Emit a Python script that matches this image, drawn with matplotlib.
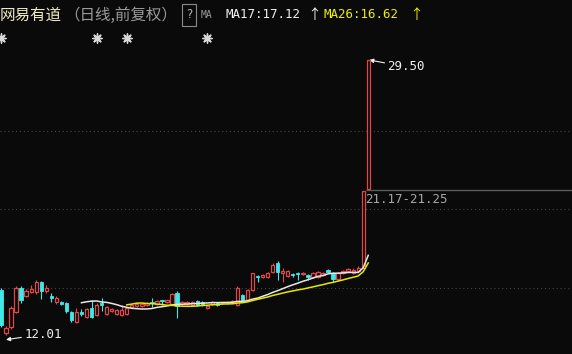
import matplotlib.pyplot as plt
from matplotlib.patches import Rectangle
import pandas as pd

# daily candles (前复权)
opens = [14.85, 12.11, 12.49, 13.45, 14.97, 14.47, 14.72, 14.72, 15.36, 14.79,
         14.47, 14.09, 14.09, 14.02, 13.45, 12.81, 13.45, 13.13, 13.70, 13.26,
         14.02, 13.32, 13.51, 13.32, 13.26, 13.32, 13.77, 13.83, 13.83, 13.89,
         14.09, 13.96, 14.21, 14.09, 13.96, 14.66, 13.96, 13.96, 13.89, 14.15,
         14.09, 13.70, 13.96, 14.02, 14.02, 14.02, 14.02, 13.89, 14.53, 14.21,
         14.85, 15.74, 15.68, 15.68, 16.00, 16.57, 15.93, 15.74, 15.87, 15.93,
         15.87, 15.81, 15.68, 15.68, 15.81, 16.12, 15.93, 15.55, 15.93, 16.06,
         15.93, 16.06, 16.25, 21.25]
closes = [12.62, 12.43, 13.70, 14.97, 14.21, 14.79, 14.91, 15.36, 14.79, 14.97,
          14.34, 14.34, 13.96, 13.51, 12.94, 13.45, 13.32, 13.64, 13.13, 13.89,
          13.89, 13.77, 13.64, 13.58, 13.58, 13.70, 13.89, 13.96, 13.96, 14.02,
          14.02, 14.15, 14.15, 14.21, 14.59, 13.83, 14.09, 14.09, 14.09, 13.89,
          13.89, 13.83, 14.09, 13.89, 14.04, 14.09, 14.15, 14.97, 14.21, 14.85,
          15.93, 15.68, 15.81, 15.93, 16.44, 16.00, 16.06, 16.06, 15.81, 15.87,
          15.93, 15.68, 15.93, 15.98, 15.93, 16.00, 15.55, 15.93, 16.06, 16.19,
          16.12, 16.25, 21.17, 29.50]
highs = [14.97, 12.55, 13.83, 15.10, 15.10, 14.91, 15.17, 15.49, 15.42, 15.17,
         14.66, 14.47, 14.15, 14.09, 13.51, 13.70, 13.64, 13.70, 14.21, 14.02,
         14.34, 13.83, 13.70, 13.64, 13.89, 13.77, 13.96, 14.02, 14.02, 14.09,
         14.34, 14.21, 14.21, 14.21, 14.66, 14.79, 14.15, 14.15, 14.15, 14.21,
         14.15, 13.89, 14.15, 14.09, 14.09, 14.09, 14.21, 15.10, 14.59, 14.91,
         15.93, 15.81, 15.87, 15.98, 16.57, 16.70, 16.25, 16.12, 15.93, 16.00,
         15.98, 15.87, 15.98, 16.06, 16.00, 16.19, 15.98, 15.98, 16.12, 16.25,
         16.25, 16.38, 21.17, 29.50]
lows = [12.49, 12.01, 12.36, 13.38, 14.02, 14.40, 14.66, 14.59, 14.28, 14.66,
        14.09, 13.96, 13.89, 13.38, 12.81, 12.75, 13.19, 13.07, 13.07, 13.19,
        13.51, 13.26, 13.45, 13.26, 13.19, 13.26, 13.70, 13.77, 13.77, 13.83,
        13.77, 13.89, 13.89, 14.02, 13.89, 13.07, 13.89, 13.89, 13.83, 13.83,
        13.83, 13.64, 13.89, 13.83, 13.96, 13.96, 14.02, 13.83, 14.15, 14.15,
        14.79, 15.36, 15.62, 15.62, 15.93, 15.49, 15.36, 15.68, 15.68, 15.49,
        15.81, 15.49, 15.62, 15.62, 15.74, 15.93, 15.36, 15.42, 15.87, 16.00,
        15.87, 16.00, 16.25, 21.25]
star_days = [0, 19, 25, 41]

red = '#e04848'
cyan = '#40e8e8'
bg = '#0a0a0a'

fig = plt.figure(figsize=(5.72, 3.54), dpi=100, facecolor=bg)
ax = fig.add_axes([0, 0, 1, 1], facecolor=bg)
ax.set_xlim(-0.2, 113.5)
ax.set_ylim(10.77, 33.32)
ax.axis('off')

# grid
for g in [15, 20, 25]:
    ax.axhline(g, color='#454545', lw=0.8, ls=(0, (1, 2.5)), zorder=0)

w = 0.66
for i in range(len(opens)):
    o, c, h, l = opens[i], closes[i], highs[i], lows[i]
    top, bot = max(o, c), min(o, c)
    body = max(top - bot, 0.04)
    if c >= o:
        ax.vlines(i, top, h, color=red, lw=0.8, zorder=3)
        ax.vlines(i, l, bot, color=red, lw=0.8, zorder=3)
        ax.add_patch(Rectangle((i - w / 2, bot), w, body, facecolor=bg,
                               edgecolor=red, lw=0.9, zorder=4))
    else:
        ax.vlines(i, l, h, color=cyan, lw=0.8, zorder=3)
        ax.add_patch(Rectangle((i - w / 2, bot), w, body, facecolor=cyan,
                               edgecolor=cyan, lw=0.6, zorder=4))

# moving averages
s = pd.Series(closes)
ma17 = s.rolling(17).mean()
ma26 = s.rolling(26).mean()
ax.plot(range(len(closes)), ma17, color='#e8e8e8', lw=1.1, zorder=5)
ax.plot(range(len(closes)), ma26, color='#e8e800', lw=1.1, zorder=5)

# gap line
ax.hlines(21.22, 72.5, 113.5, color='#5a5a5a', lw=1.0, zorder=2)
ax.text(72.4, 20.6, '21.17-21.25', color='#a8a8a8', family='DejaVu Sans Mono',
        fontsize=9, va='center', ha='left')

# max / min marks
ax.annotate('29.50', xy=(73.2, 29.5), xytext=(13, -5), textcoords='offset points',
            color='#f0f0f0', family='DejaVu Sans Mono', fontsize=9, va='center',
            arrowprops=dict(arrowstyle='-|>', color='#f0f0f0', lw=0.8,
                            mutation_scale=6, shrinkA=0, shrinkB=0))
ax.annotate('12.01', xy=(1.0, 11.68), xytext=(13, 4), textcoords='offset points',
            color='#f0f0f0', family='DejaVu Sans Mono', fontsize=9, va='center',
            arrowprops=dict(arrowstyle='-|>', color='#f0f0f0', lw=0.8,
                            mutation_scale=6, shrinkA=0, shrinkB=0))

# star markers
ax.scatter(star_days, [30.9] * len(star_days), marker=(8, 2, 0), s=45,
           color='#d8d8d8', lw=1.0, zorder=6)
ax.scatter(star_days, [30.9] * len(star_days), marker='o', s=10,
           color='#d8d8d8', zorder=6)

# header
def hx(px):
    return px / 572


hy = 1 - 15 / 354
cjk = ['Noto Sans CJK SC', 'DejaVu Sans']
fig.text(hx(0), hy, '网易有道', color='#ecebc4', fontsize=11.2, family=cjk,
         va='center', weight='medium')
fig.text(hx(64), hy, '（日线,前复权）', color='#9a9a9a', fontsize=11.2, family=cjk, va='center')
fig.text(hx(189), hy, '?', color='#b0b0b0', fontsize=8.5, ha='center', va='center',
         bbox=dict(boxstyle='square,pad=0.35', fc=bg, ec='#8a8a8a', lw=0.8))
fig.text(hx(201), hy, 'MA', color='#9a9a9a', fontsize=7, va='center', family='DejaVu Sans Mono')
fig.text(hx(226), hy, 'MA17:17.12', color='#f0f0f0', fontsize=9, va='center',
         family='DejaVu Sans Mono')
fig.text(hx(307), hy, '↑', color='#f0f0f0', fontsize=10, va='center', family=cjk)
fig.text(hx(324), hy, 'MA26:16.62', color='#f0f000', fontsize=9, va='center',
         family='DejaVu Sans Mono')
fig.text(hx(409), hy, '↑', color='#f0f000', fontsize=10, va='center', family=cjk)

fig.savefig('out.png', dpi=100, facecolor=bg)
